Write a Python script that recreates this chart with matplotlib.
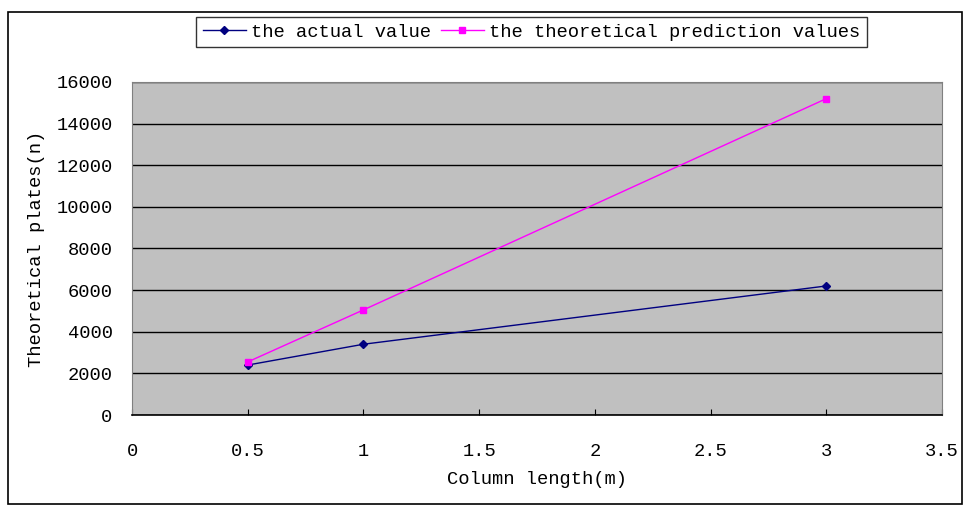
import matplotlib.pyplot as plt
from matplotlib.patches import Rectangle

# data
column_length = [0.5, 1, 3]
actual_value = [2400, 3400, 6200]
predicted_value = [2550, 5050, 15200]

x_ticks = [0, 0.5, 1, 1.5, 2, 2.5, 3, 3.5]
x_tick_labels = ["0", "0.5", "1", "1.5", "2", "2.5", "3", "3.5"]
y_ticks = [0, 2000, 4000, 6000, 8000, 10000, 12000, 14000, 16000]

W, H = 966, 505
FS = 13.5
plt.rcParams["font.family"] = ["Liberation Mono", "DejaVu Sans Mono"]

fig = plt.figure(figsize=(W/100, H/100), dpi=100)
fig.patch.set_facecolor("white")
fig.patches.append(Rectangle((8/W, 1/H), 954/W, 492/H, transform=fig.transFigure,
                             fill=False, edgecolor="black", linewidth=1.2))

ax = fig.add_axes([132/W, (H - 415)/H, 810/W, 333/H])
ax.set_facecolor("#c0c0c0")

ax.plot(column_length, actual_value, color="#000080", marker="D", markersize=4.5,
        linewidth=1.0, label="the actual value")
ax.plot(column_length, predicted_value, color="#ff00ff", marker="s", markersize=5,
        linewidth=1.0, label="the theoretical prediction values")

ax.set_xlim(0, 3.5)
ax.set_ylim(0, 16000)
ax.set_xticks(x_ticks)
ax.set_xticklabels(x_tick_labels)
ax.set_yticks(y_ticks)
ax.yaxis.grid(True, color="black", linewidth=1.0)
ax.set_axisbelow(True)
ax.tick_params(axis="x", labelsize=FS, length=4, direction="in", pad=20)
ax.tick_params(axis="y", labelsize=FS, length=0, pad=14)

for side in ["top", "right", "left"]:
    ax.spines[side].set_color("#808080")
ax.spines["bottom"].set_color("black")
ax.spines["bottom"].set_linewidth(1.2)

ax.set_xlabel("Column length(m)", fontsize=FS, labelpad=8)
ax.set_ylabel("Theoretical plates(n)", fontsize=FS, labelpad=8)

leg = fig.legend(loc="upper left", bbox_to_anchor=(196/W, 1 - 17/H), ncol=2,
                 fontsize=FS, frameon=True, fancybox=False, edgecolor="black",
                 handlelength=2.3, handletextpad=0.3, columnspacing=0.5,
                 borderpad=0.35, borderaxespad=0)
leg.get_frame().set_linewidth(1.0)

fig.savefig("out.png", dpi=100)
